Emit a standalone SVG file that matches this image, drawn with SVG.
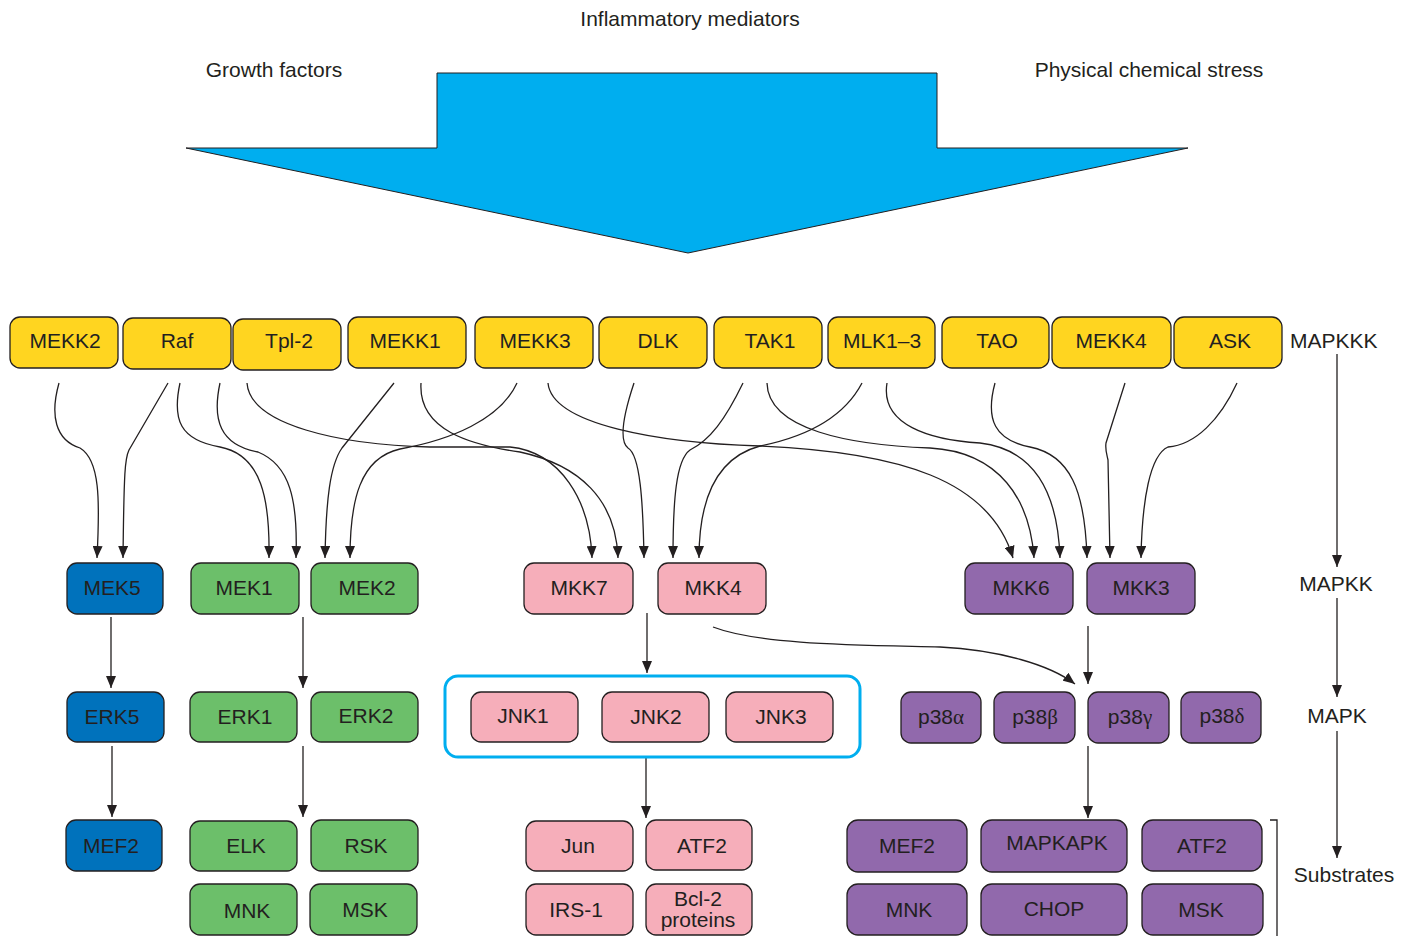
<svg xmlns="http://www.w3.org/2000/svg" width="1410" height="936" viewBox="0 0 1410 936">
<style>
text{font-family:"Liberation Sans",Arial,sans-serif;font-size:21px;fill:#231f20;text-anchor:middle}
.lbl{text-anchor:start}
.box{stroke:#231f20;stroke-width:1.3}
.y{fill:#ffd520}.b{fill:#0072bc}.g{fill:#6cbf6a}.p{fill:#f6aeba}.v{fill:#9169ac}
.c{fill:none;stroke:#231f20;stroke-width:1.3;marker-end:url(#ah)}
.gr{font-family:"Liberation Serif",serif}
</style>
<defs>
<marker id="ah" markerUnits="userSpaceOnUse" markerWidth="12" markerHeight="10" refX="12" refY="5" orient="auto">
<path d="M0,0 L12,5 L0,10 z" fill="#231f20"/>
</marker>
</defs>
<rect width="1410" height="936" fill="#fff"/>
<g id="labels">
<text x="690" y="26">Inflammatory mediators</text>
<text x="274" y="77">Growth factors</text>
<text x="1149" y="77">Physical chemical stress</text>
<text class="lbl" x="1290" y="348">MAPKKK</text>
<text x="1336" y="591">MAPKK</text>
<text x="1337" y="723">MAPK</text>
<text x="1344" y="882">Substrates</text>
</g>
<g id="bigarrow">
<polygon points="437,73 937,73 937,148 1188,148 688,253 186,148 437,148" fill="#00aeef" stroke="#231f20" stroke-width="1"/>
</g>
<g id="connectors">
<path class="c" d="M59,383 C50,415 55,440 80,448 C100,460 100,500 97,558"/>
<path class="c" d="M168,383 L129,450 C125,458 124,470 123,558"/>
<path class="c" d="M180,383 C172,420 180,440 220,447 C262,455 270,500 269,558"/>
<path class="c" d="M220,383 C212,420 220,445 258,452 C290,465 298,500 296,558"/>
<path class="c" d="M394,383 L342,448 C330,465 326,500 325,558"/>
<path class="c" d="M517,383 C500,420 450,440 400,449 C360,458 350,500 350,558"/>
<path class="c" d="M247,383 C250,425 340,445 430,447 L510,447 C560,452 590,500 592,558"/>
<path class="c" d="M421,383 C418,430 470,445 520,452 C580,465 616,500 618,558"/>
<path class="c" d="M634,383 C625,410 618,440 628,448 C640,455 643,500 644,558"/>
<path class="c" d="M743,383 C725,420 710,440 690,450 C676,460 673,500 673,558"/>
<path class="c" d="M862,383 C840,425 790,440 760,446 C715,458 699,500 699,558"/>
<path class="c" d="M548,383 C552,425 660,443 760,446 C900,452 990,480 1013,558"/>
<path class="c" d="M767,383 C768,430 850,445 930,448 C1000,452 1030,500 1034,558"/>
<path class="c" d="M887,383 C880,425 930,440 980,443 C1040,450 1058,500 1060,558"/>
<path class="c" d="M995,383 C985,420 995,440 1030,447 C1070,455 1085,490 1087,558"/>
<path class="c" d="M1125,383 L1106,443 C1105,450 1107,455 1108,460 L1110,558"/>
<path class="c" d="M1237,383 C1220,420 1195,445 1168,447 C1150,455 1142,500 1141,558"/>
<path class="c" d="M111,617 L111,688"/>
<path class="c" d="M112,746 L112,817"/>
<path class="c" d="M303,617 L303,688"/>
<path class="c" d="M303,746 L303,817"/>
<path class="c" d="M647,613 L647,673"/>
<path class="c" d="M646,758 L646,818"/>
<path class="c" d="M1088,626 L1088,684"/>
<path class="c" d="M1088,746 L1088,818"/>
<path class="c" d="M713,627 C760,645 860,645 940,647 C1000,650 1050,665 1075,684"/>
<path class="c" d="M1337,354 L1337,567"/>
<path class="c" d="M1337,598 L1337,697"/>
<path class="c" d="M1337,731 L1337,858"/>
<path d="M1270,820 L1277,820 L1277,936" fill="none" stroke="#231f20" stroke-width="1.3"/>
</g>
<g id="n-MEKK2"><rect class="box y" x="10" y="317" width="108" height="51" rx="10"/><text x="65" y="348">MEKK2</text></g>
<g id="n-Raf"><rect class="box y" x="123" y="318" width="108" height="51" rx="10"/><text x="177" y="348">Raf</text></g>
<g id="n-Tpl2"><rect class="box y" x="233" y="319" width="108" height="51" rx="10"/><text x="289" y="348">Tpl-2</text></g>
<g id="n-MEKK1"><rect class="box y" x="348" y="317" width="118" height="51" rx="10"/><text x="405" y="348">MEKK1</text></g>
<g id="n-MEKK3"><rect class="box y" x="475" y="317" width="118" height="51" rx="10"/><text x="535" y="348">MEKK3</text></g>
<g id="n-DLK"><rect class="box y" x="599" y="317" width="108" height="51" rx="10"/><text x="658" y="348">DLK</text></g>
<g id="n-TAK1"><rect class="box y" x="714" y="317" width="108" height="51" rx="10"/><text x="770" y="348">TAK1</text></g>
<g id="n-MLK13"><rect class="box y" x="828" y="317" width="107" height="51" rx="10"/><text x="882" y="348">MLK1–3</text></g>
<g id="n-TAO"><rect class="box y" x="942" y="317" width="107" height="51" rx="10"/><text x="997" y="348">TAO</text></g>
<g id="n-MEKK4"><rect class="box y" x="1052" y="317" width="119" height="51" rx="10"/><text x="1111" y="348">MEKK4</text></g>
<g id="n-ASK"><rect class="box y" x="1174" y="317" width="108" height="51" rx="10"/><text x="1230" y="348">ASK</text></g>

<g id="n-MEK5"><rect class="box b" x="67" y="563" width="96" height="51" rx="10"/><text x="112" y="595">MEK5</text></g>
<g id="n-MEK1"><rect class="box g" x="191" y="563" width="108" height="51" rx="10"/><text x="244" y="595">MEK1</text></g>
<g id="n-MEK2"><rect class="box g" x="311" y="563" width="107" height="51" rx="10"/><text x="367" y="595">MEK2</text></g>
<g id="n-MKK7"><rect class="box p" x="524" y="563" width="109" height="51" rx="10"/><text x="579" y="595">MKK7</text></g>
<g id="n-MKK4"><rect class="box p" x="658" y="563" width="108" height="51" rx="10"/><text x="713" y="595">MKK4</text></g>
<g id="n-MKK6"><rect class="box v" x="965" y="563" width="108" height="51" rx="10"/><text x="1021" y="595">MKK6</text></g>
<g id="n-MKK3"><rect class="box v" x="1087" y="563" width="108" height="51" rx="10"/><text x="1141" y="595">MKK3</text></g>

<g id="n-ERK5"><rect class="box b" x="67" y="692" width="97" height="50" rx="10"/><text x="112" y="724">ERK5</text></g>
<g id="n-ERK1"><rect class="box g" x="190" y="692" width="107" height="50" rx="10"/><text x="245" y="724">ERK1</text></g>
<g id="n-ERK2"><rect class="box g" x="311" y="692" width="107" height="50" rx="10"/><text x="366" y="723">ERK2</text></g>
<g id="n-JNKgroup"><rect x="445" y="676" width="415" height="81" rx="13" fill="none" stroke="#00aeef" stroke-width="3"/></g>
<g id="n-JNK1"><rect class="box p" x="471" y="692" width="107" height="50" rx="10"/><text x="523" y="723">JNK1</text></g>
<g id="n-JNK2"><rect class="box p" x="602" y="692" width="107" height="50" rx="10"/><text x="656" y="724">JNK2</text></g>
<g id="n-JNK3"><rect class="box p" x="726" y="692" width="107" height="50" rx="10"/><text x="781" y="724">JNK3</text></g>
<g id="n-p38a"><rect class="box v" x="901" y="692" width="80" height="51" rx="10"/><text x="941" y="724">p38<tspan class="gr">α</tspan></text></g>
<g id="n-p38b"><rect class="box v" x="994" y="692" width="81" height="51" rx="10"/><text x="1035" y="724">p38<tspan class="gr">β</tspan></text></g>
<g id="n-p38g"><rect class="box v" x="1088" y="692" width="81" height="51" rx="10"/><text x="1130" y="724">p38<tspan class="gr">γ</tspan></text></g>
<g id="n-p38d"><rect class="box v" x="1181" y="692" width="80" height="51" rx="10"/><text x="1222" y="723">p38<tspan class="gr">δ</tspan></text></g>

<g id="n-MEF2a"><rect class="box b" x="66" y="820" width="96" height="51" rx="10"/><text x="111" y="853">MEF2</text></g>
<g id="n-ELK"><rect class="box g" x="190" y="821" width="107" height="50" rx="10"/><text x="246" y="853">ELK</text></g>
<g id="n-RSK"><rect class="box g" x="311" y="820" width="107" height="51" rx="10"/><text x="366" y="853">RSK</text></g>
<g id="n-MNKa"><rect class="box g" x="190" y="884" width="107" height="51" rx="10"/><text x="247" y="918">MNK</text></g>
<g id="n-MSKa"><rect class="box g" x="310" y="884" width="107" height="51" rx="10"/><text x="365" y="917">MSK</text></g>
<g id="n-Jun"><rect class="box p" x="526" y="821" width="107" height="50" rx="10"/><text x="578" y="853">Jun</text></g>
<g id="n-ATF2a"><rect class="box p" x="646" y="820" width="106" height="50" rx="10"/><text x="702" y="853">ATF2</text></g>
<g id="n-IRS1"><rect class="box p" x="526" y="884" width="107" height="51" rx="10"/><text x="576" y="917">IRS-1</text></g>
<g id="n-Bcl2"><rect class="box p" x="646" y="884" width="106" height="51" rx="10"/><text x="698" y="906">Bcl-2</text><text x="698" y="927">proteins</text></g>
<g id="n-MEF2b"><rect class="box v" x="847" y="820" width="120" height="52" rx="11"/><text x="907" y="853">MEF2</text></g>
<g id="n-MAPKAPK"><rect class="box v" x="981" y="820" width="146" height="52" rx="11"/><text x="1057" y="850">MAPKAPK</text></g>
<g id="n-ATF2b"><rect class="box v" x="1142" y="820" width="120" height="51" rx="11"/><text x="1202" y="853">ATF2</text></g>
<g id="n-MNKb"><rect class="box v" x="847" y="884" width="120" height="51" rx="11"/><text x="909" y="917">MNK</text></g>
<g id="n-CHOP"><rect class="box v" x="981" y="884" width="146" height="51" rx="11"/><text x="1054" y="916">CHOP</text></g>
<g id="n-MSKb"><rect class="box v" x="1142" y="884" width="121" height="51" rx="11"/><text x="1201" y="917">MSK</text></g>
</svg>
